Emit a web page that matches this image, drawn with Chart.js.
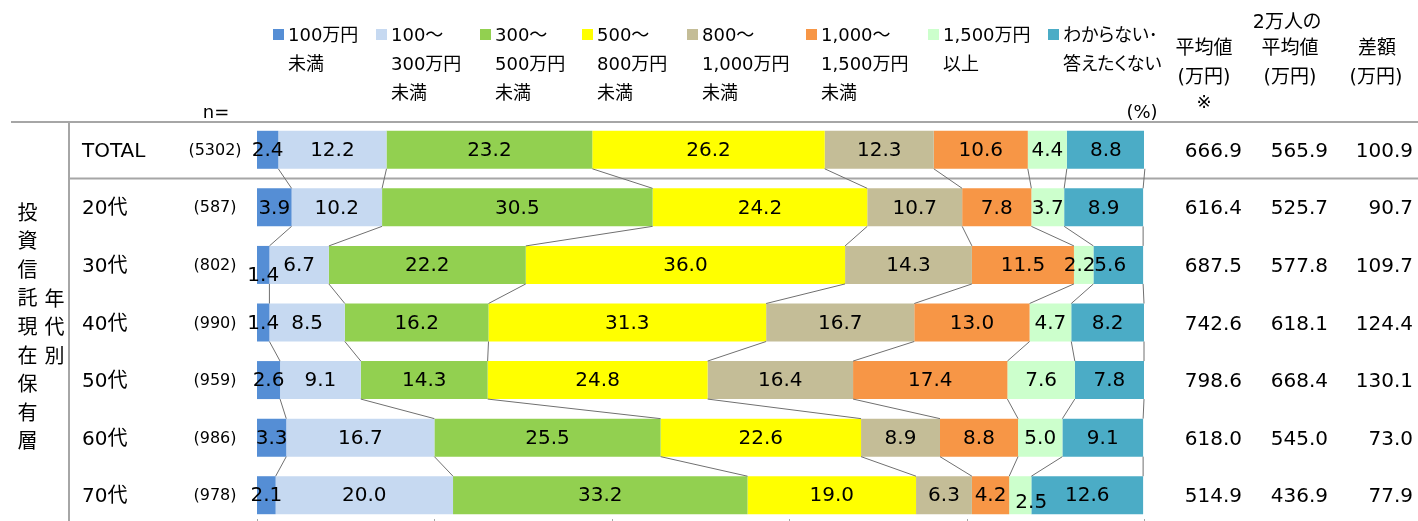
<!DOCTYPE html>
<html>
<head>
<meta charset="utf-8">
<script src="https://cdn.jsdelivr.net/npm/chart.js@4.4.1/dist/chart.umd.min.js"></script>
<style>
  html, body { margin: 0; padding: 0; width: 1418px; height: 521px; overflow: hidden; background: #fff; }
  body { position: relative; font-family: 'DejaVu Sans', 'Noto Sans CJK JP', sans-serif; color: #000; }
  #chart { position: absolute; left: 0; top: 0; }
  .t { position: absolute; white-space: nowrap; line-height: 1; font-feature-settings: "palt"; }
  .sw { position: absolute; width: 11px; height: 11px; }
  .vert { position: absolute; writing-mode: vertical-rl; line-height: 1; font-size: 20px; }
</style>
</head>
<body>
<canvas id="chart" width="1418" height="524"></canvas>
<script>
// rows
const categories = ['TOTAL', '20代', '30代', '40代', '50代', '60代', '70代'];
const sampleSizes = [5302, 587, 802, 990, 959, 986, 978];

// series (income bands), legend text split over lines
const seriesNames = [
  '100万円\n未満',
  '100～\n300万円\n未満',
  '300～\n500万円\n未満',
  '500～\n800万円\n未満',
  '800～\n1,000万円\n未満',
  '1,000～\n1,500万円\n未満',
  '1,500万円\n以上',
  'わからない･\n答えたくない'
];
const seriesColors = ['#558ed5', '#c6d9f1', '#92d050', '#ffff00', '#c4bd97', '#f79646', '#ccffcc', '#4bacc6'];

// % per series, one value per row
const under100 = [2.4, 3.9, 1.4, 1.4, 2.6, 3.3, 2.1];
const from100 = [12.2, 10.2, 6.7, 8.5, 9.1, 16.7, 20.0];
const from300 = [23.2, 30.5, 22.2, 16.2, 14.3, 25.5, 33.2];
const from500 = [26.2, 24.2, 36.0, 31.3, 24.8, 22.6, 19.0];
const from800 = [12.3, 10.7, 14.3, 16.7, 16.4, 8.9, 6.3];
const from1000 = [10.6, 7.8, 11.5, 13.0, 17.4, 8.8, 4.2];
const over1500 = [4.4, 3.7, 2.2, 4.7, 7.6, 5.0, 2.5];
const unknown = [8.8, 8.9, 5.6, 8.2, 7.8, 9.1, 12.6];
const seriesValues = [under100, from100, from300, from500, from800, from1000, over1500, unknown];

// right-hand table
const avgIncome = [666.9, 616.4, 687.5, 742.6, 798.6, 618.0, 514.9];
const avgIncomeAll = [565.9, 525.7, 577.8, 618.1, 668.4, 545.0, 436.9];
const avgDiff = [100.9, 90.7, 109.7, 124.4, 130.1, 73.0, 77.9];

const xTicks = [0, 20, 40, 60, 80, 100];

// labels that Excel pushed off-centre ("row,series": [dx, dy])
const labelNudge = { '2,0': [0, 10], '2,6': [-4, 0], '2,7': [-8, 0], '6,6': [11, 7] };

const FONT = "'DejaVu Sans', 'Noto Sans CJK JP', sans-serif";
const GRID = '#a6a6a6';

function put(txt, x, y, align, size) {
  const d = document.createElement('div');
  d.className = 't';
  d.textContent = txt;
  d.style.fontSize = size + 'px';
  d.style.left = x + 'px';
  d.style.top = y + 'px';
  const tx = align === 'center' ? '-50%' : align === 'right' ? '-100%' : '0';
  d.style.transform = `translate(${tx}, -50%)`;
  document.body.appendChild(d);
}

const frame = {
  id: 'frame',
  beforeDraw(chart) {
    const { ctx, chartArea, scales } = chart;
    const y = scales.y;
    const sep = (y.getPixelForValue(0) + y.getPixelForValue(1)) / 2;
    ctx.save();
    ctx.strokeStyle = GRID;
    ctx.lineWidth = 2;
    ctx.beginPath();
    ctx.moveTo(11, chartArea.top + 1); ctx.lineTo(1418, chartArea.top + 1);
    ctx.moveTo(69, sep); ctx.lineTo(1418, sep);
    ctx.moveTo(69, chartArea.top + 1); ctx.lineTo(69, 524);
    ctx.stroke();
    // small ticks at the bottom
    ctx.lineWidth = 1;
    ctx.beginPath();
    xTicks.forEach(v => {
      const px = Math.round(scales.x.getPixelForValue(v)) + 0.5;
      ctx.moveTo(px, chartArea.bottom - 5); ctx.lineTo(px, chartArea.bottom + 2);
    });
    ctx.stroke();
    ctx.restore();
  },
  afterDatasetsDraw(chart) {
    const { ctx } = chart;
    ctx.save();
    // series lines between neighbouring bars
    ctx.strokeStyle = '#707070';
    ctx.lineWidth = 1;
    ctx.beginPath();
    chart.data.datasets.forEach((ds, d) => {
      const els = chart.getDatasetMeta(d).data;
      for (let i = 0; i < els.length - 1; i++) {
        const a = els[i], b = els[i + 1];
        ctx.moveTo(a.x, a.y + a.height / 2);
        ctx.lineTo(b.x, b.y - b.height / 2);
      }
    });
    ctx.stroke();
    // value labels
    ctx.fillStyle = '#000';
    ctx.font = `20px ${FONT}`;
    ctx.textAlign = 'center';
    ctx.textBaseline = 'middle';
    chart.data.datasets.forEach((ds, d) => {
      chart.getDatasetMeta(d).data.forEach((el, i) => {
        const n = labelNudge[i + ',' + d] || [0, 0];
        ctx.fillText(ds.data[i].toFixed(1), (el.x + el.base) / 2 + n[0], el.y + 1 + n[1]);
      });
    });
    ctx.restore();
  }
};

const chart = new Chart(document.getElementById('chart'), {
  type: 'bar',
  data: {
    labels: categories,
    datasets: seriesValues.map((vals, k) => ({
      label: seriesNames[k],
      data: vals,
      backgroundColor: seriesColors[k],
      borderWidth: 0,
      barPercentage: 0.66,
      categoryPercentage: 1
    }))
  },
  options: {
    indexAxis: 'y',
    responsive: false,
    animation: false,
    devicePixelRatio: 1,
    layout: { padding: { left: 257, right: 274, top: 121, bottom: 0 } },
    scales: {
      x: { stacked: true, min: 0, max: 100, display: false },
      y: { stacked: true, display: false }
    },
    plugins: { legend: { display: false }, tooltip: { enabled: false } }
  },
  plugins: [frame]
});

// legend
const swatchX = [273, 376, 480, 582, 687, 806, 928, 1048];
seriesNames.forEach((name, k) => {
  const s = document.createElement('div');
  s.className = 'sw';
  s.style.left = swatchX[k] + 'px';
  s.style.top = '29px';
  s.style.background = seriesColors[k];
  document.body.appendChild(s);
  name.split('\n').forEach((line, j) => put(line, swatchX[k] + 15, 35 + j * 29, 'left', 18));
});

put('n=', 216, 112, 'center', 18);
put('(%)', 1142, 112, 'center', 18);

// column headers on the right
put('平均値', 1204, 47, 'center', 19);
put('(万円)', 1204, 76, 'center', 19);
put('※', 1204, 102, 'center', 18);
put('2万人の', 1287, 21, 'center', 19);
put('平均値', 1290, 47, 'center', 19);
put('(万円)', 1290, 76, 'center', 19);
put('差額', 1377, 47, 'center', 19);
put('(万円)', 1376, 76, 'center', 19);

// row texts placed on the category scale
const ys = chart.scales.y;
categories.forEach((c, i) => {
  const y = ys.getPixelForValue(i);
  put(c, 82, y, 'left', 20);
  put('(' + sampleSizes[i] + ')', 215, y, 'center', 16);
  put(avgIncome[i].toFixed(1), 1242, y, 'right', 20);
  put(avgIncomeAll[i].toFixed(1), 1328, y, 'right', 20);
  put(avgDiff[i].toFixed(1), 1413, y, 'right', 20);
});

// vertical group captions
const v1 = document.createElement('div');
v1.className = 'vert';
v1.textContent = '投資信託現在保有層';
v1.style.letterSpacing = '8.6px';
v1.style.left = '16px';
v1.style.top = '202px';
document.body.appendChild(v1);
const v2 = document.createElement('div');
v2.className = 'vert';
v2.textContent = '年代別';
v2.style.letterSpacing = '8.6px';
v2.style.left = '43px';
v2.style.top = '288px';
document.body.appendChild(v2);
</script>
</body>
</html>
